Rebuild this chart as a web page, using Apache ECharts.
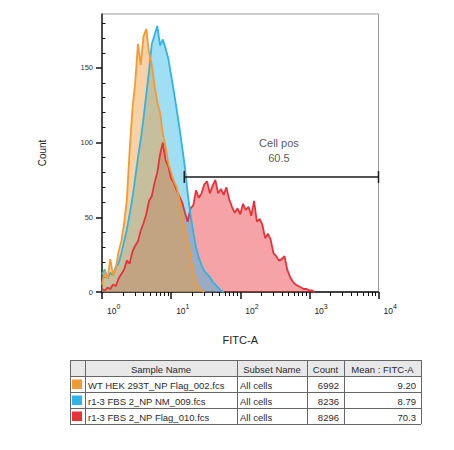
<!DOCTYPE html>
<html><head><meta charset="utf-8">
<script src="https://cdn.jsdelivr.net/npm/echarts@6/dist/echarts.min.js"></script>
<style>html,body{margin:0;padding:0;background:#fff;}#chart{width:454px;height:450px;}</style>
</head><body><div id="chart"></div>
<script>
// FITC-A bin positions in decades (10^x)
const bins = [0,0.04,0.08,0.12,0.16,0.2,0.24,0.28,0.32,0.36,0.4,0.44,0.48,0.52,0.56,0.6,0.64,0.68,0.72,0.76,0.8,0.84,0.88,0.92,0.96,1,1.04,1.08,1.12,1.16,1.2,1.24,1.28,1.32,1.36,1.4,1.44,1.48,1.52,1.56,1.6,1.64,1.68,1.72,1.76,1.8,1.84,1.88,1.92,1.96,2,2.04,2.08,2.12,2.16,2.2,2.24,2.28,2.32,2.36,2.4,2.44,2.48,2.52,2.56,2.6,2.64,2.68,2.72,2.76,2.8,2.84,2.88,2.92,2.96,3,3.04,3.08];
const orangeCounts = [5,14,9,22,11,16,27,34,46,62,95,122,140,166,152,171,176,160,152,138,127,120,106,97,86,80,74,70,62,50,41,33,24,13,7,3,1,0];
const blueCounts = [12,15,9,13,11,17,19,26,34,42,52,63,76,90,102,116,132,148,166,172,178,165,169,163,156,145,134,122,110,97,83,66,52,40,30,23,18,14,12,10,7,5,3,1,0];
const redCounts = [2,1,3,2,5,4,9,12,15,21,19,27,31,34,41,46,52,61,64,73,80,92,100,88,84,76,73,68,64,60,53,47,56,58,68,63,66,72,74,66,71,75,66,69,65,70,62,57,53,56,52,59,55,57,51,61,47,49,45,36,39,35,26,24,21,22,24,15,10,7,5,4,3,2,2,1,1,0];

const xTickValues = [0,1,2,3,4];
const xTickExponents = ['0','1','2','3','4'];
const yTickValues = [0,50,100,150];
const yMinorTicks = [10,20,30,40,60,70,80,90,110,120,130,140,160,170,180];

const gateStart = 1.19, gateEnd = 4, gateLevel = 77;
const gateName = 'Cell pos', gateValue = '60.5';
const gateLabelPos = [2.56, 94.5];

const tableHeaders = ['', 'Sample Name', 'Subset Name', 'Count', 'Mean : FITC-A'];
const sampleNames = ['WT HEK 293T_NP Flag_002.fcs', 'r1-3 FBS 2_NP NM_009.fcs', 'r1-3 FBS 2_NP Flag_010.fcs'];
const subsetNames = ['All cells', 'All cells', 'All cells'];
const cellCounts = ['6992', '8236', '8296'];
const meanFitc = ['9.20', '8.79', '70.3'];
const sampleColors = ['#F39A32', '#2CB5E6', '#E8323A'];

const FONT = '"Liberation Sans", Arial, sans-serif';

function toPairs(counts) { return counts.map((c, i) => [bins[i], c]); }

// minor tick positions on the log scale (2..9 within each decade)
const xMinorTicks = [];
for (let d = 0; d < 4; d++) for (let k = 2; k <= 9; k++) xMinorTicks.push(d + Math.log10(k));

function histSeries(name, counts, color) {
  return {
    name, type: 'line', data: toPairs(counts), symbol: 'none', silent: true,
    lineStyle: { color, width: 1.8 },
    areaStyle: { color, opacity: 0.45 },
    z: 2
  };
}

// table graphics
const colX = [70, 85, 237, 307, 344, 421];
const rowY = [360, 376, 392, 408, 424];
const graphics = [];
graphics.push({ type: 'rect', shape: { x: colX[0], y: rowY[0], width: colX[5] - colX[0], height: rowY[1] - rowY[0] }, style: { fill: '#E8E8E8' } });
rowY.forEach(y => graphics.push({ type: 'line', shape: { x1: colX[0], y1: y + 0.5, x2: colX[5], y2: y + 0.5 }, style: { stroke: '#666', lineWidth: 1 } }));
colX.forEach(x => graphics.push({ type: 'line', shape: { x1: x + 0.5, y1: rowY[0], x2: x + 0.5, y2: rowY[4] }, style: { stroke: '#666', lineWidth: 1 } }));
const tstyle = (text, x, y, align) => ({ type: 'text', x, y, style: { text, fill: '#2a2a2a', font: '9.5px ' + FONT, textAlign: align, textVerticalAlign: 'middle' } });
for (let c = 1; c < 5; c++) graphics.push(tstyle(tableHeaders[c], (colX[c] + colX[c + 1]) / 2, (rowY[0] + rowY[1]) / 2 + 1, 'center'));
for (let r = 0; r < 3; r++) {
  const cy = (rowY[r + 1] + rowY[r + 2]) / 2 + 1;
  graphics.push({ type: 'rect', shape: { x: 72, y: rowY[r + 1] + 3.5, width: 10, height: 9.5 }, style: { fill: sampleColors[r] } });
  graphics.push(tstyle(sampleNames[r], colX[1] + 3, cy, 'left'));
  graphics.push(tstyle(subsetNames[r], colX[2] + 3, cy, 'left'));
  graphics.push(tstyle(cellCounts[r], colX[4] - 5, cy, 'right'));
  graphics.push(tstyle(meanFitc[r], colX[5] - 5, cy, 'right'));
}

const chart = echarts.init(document.getElementById('chart'), null, { renderer: 'svg' });
chart.setOption({
  animation: false,
  backgroundColor: '#fff',
  textStyle: { fontFamily: FONT },
  grid: { left: 102, right: 75.5, top: 14, bottom: 158, show: true, borderColor: '#999', borderWidth: 1 },
  xAxis: [{
    type: 'value', min: 0, max: 4, interval: 1, position: 'bottom',
    axisLine: { show: true, lineStyle: { color: '#111', width: 1.5 } },
    axisTick: { show: true, length: 7, lineStyle: { color: '#111', width: 1.5 } },
    axisLabel: {
      margin: 11, align: 'left', padding: [0, 0, 0, 5], color: '#222',
      formatter: v => '{b|10}{s|' + xTickExponents[xTickValues.indexOf(v)] + '}',
      rich: { b: { fontSize: 8.5, fontFamily: FONT, color: '#222', verticalAlign: 'bottom' },
              s: { fontSize: 7, fontFamily: FONT, color: '#222', padding: [0, 0, 5, 0], verticalAlign: 'bottom' } }
    },
    splitLine: { show: false },
    name: 'FITC-A', nameLocation: 'middle', nameGap: 42,
    nameTextStyle: { fontSize: 11, color: '#222', fontFamily: FONT }
  }, {
    type: 'value', min: 0, max: 4, position: 'bottom', gridIndex: 0,
    axisLine: { show: false }, axisLabel: { show: false }, splitLine: { show: false },
    axisTick: { show: true, customValues: xMinorTicks, length: 4, lineStyle: { color: '#111', width: 1 } }
  }],
  yAxis: [{
    type: 'value', min: 0, max: 186, interval: 50,
    axisLine: { show: true, lineStyle: { color: '#222', width: 1.5 } },
    axisTick: { show: true, customValues: yTickValues, length: 6, lineStyle: { color: '#111', width: 1.5 } },
    axisLabel: { customValues: yTickValues, fontSize: 7.5, margin: 9, color: '#333' },
    splitLine: { show: false },
    name: 'Count', nameLocation: 'middle', nameGap: 55,
    nameTextStyle: { fontSize: 10, color: '#222', fontFamily: FONT }
  }, {
    type: 'value', min: 0, max: 186, gridIndex: 0,
    axisLine: { show: false }, axisLabel: { show: false }, splitLine: { show: false },
    axisTick: { show: true, customValues: yMinorTicks, length: 3.5, lineStyle: { color: '#111', width: 1 } }
  }],
  series: [
    histSeries('r1-3 FBS 2_NP Flag_010.fcs', redCounts, sampleColors[2]),
    histSeries('r1-3 FBS 2_NP NM_009.fcs', blueCounts, sampleColors[1]),
    histSeries('WT HEK 293T_NP Flag_002.fcs', orangeCounts, sampleColors[0]),
    { type: 'line', data: [[gateStart, gateLevel], [gateEnd, gateLevel]], symbol: 'none', silent: true, clip: false, lineStyle: { color: '#1a1a1a', width: 1.5 }, z: 5 },
    { type: 'line', data: [[gateStart, gateLevel - 4], [gateStart, gateLevel + 4]], symbol: 'none', silent: true, clip: false, lineStyle: { color: '#1a1a1a', width: 1.5 }, z: 5 },
    { type: 'line', data: [[gateEnd, gateLevel - 4], [gateEnd, gateLevel + 4]], symbol: 'none', silent: true, clip: false, lineStyle: { color: '#1a1a1a', width: 1.5 }, z: 5 },
    { type: 'scatter', data: [gateLabelPos], symbolSize: 1, silent: true, itemStyle: { color: 'rgba(0,0,0,0)' },
      label: { show: true, position: 'inside', formatter: gateName + '\n' + gateValue, fontSize: 11, lineHeight: 15, color: '#2a2a2a', fontFamily: FONT }, z: 6 }
  ],
  graphic: graphics
});
</script></body></html>
